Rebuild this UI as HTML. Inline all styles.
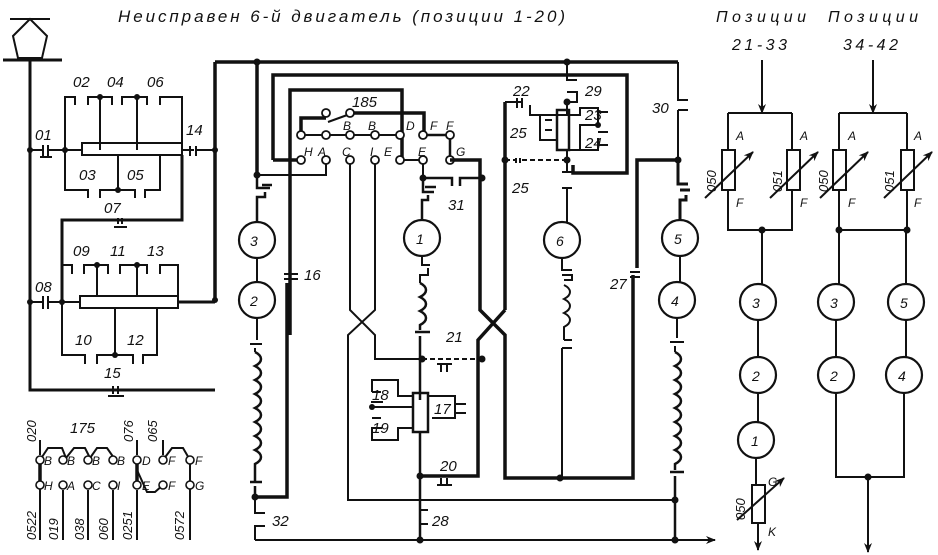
<!DOCTYPE html>
<html><head><meta charset="utf-8"><style>
html,body{margin:0;padding:0;background:#fff}
svg{display:block}
text{font-family:"Liberation Sans",sans-serif;font-style:italic;fill:#111}
</style></head><body>
<svg width="938" height="555" viewBox="0 0 938 555" xmlns="http://www.w3.org/2000/svg">
<defs>
<marker id="ar" markerWidth="10" markerHeight="10" refX="9" refY="5" orient="auto" markerUnits="userSpaceOnUse"><path d="M0,1 L10,5 L0,9 L3,5 Z" fill="#111"/></marker>
</defs>
<text x="118" y="22" font-size="17" textLength="447" lengthAdjust="spacing">Неисправен 6-й двигатель (позиции 1-20)</text>
<text x="716" y="22" font-size="16" textLength="90" lengthAdjust="spacing">Позиции</text>
<text x="732" y="50" font-size="16" textLength="55" lengthAdjust="spacing">21-33</text>
<text x="828" y="22" font-size="16" textLength="90" lengthAdjust="spacing">Позиции</text>
<text x="843" y="50" font-size="16" textLength="55" lengthAdjust="spacing">34-42</text>

<g stroke="#111" fill="none" stroke-width="2">
<!-- pantograph -->
<path d="M10,19 H50 M30,19 L13,36 L18,58 H42 L47,36 Z"/>
<path d="M3,60 H62" stroke-width="3"/>
<path d="M30,60 V390 H215" stroke-width="3"/>
<!-- 01 -->
<path d="M30,150 H43 M43,145 V158 M48,145 V158 M48,150 H82" />
<path d="M40,157 H52"/>
<rect x="82" y="143" width="100" height="12"/>
<path d="M65,150 V97 H75 V105 M88,105 V97 H100 V150 M100,97 H112 V105 M122,105 V97 H137 V150 M137,97 H147 V105 M160,105 V97 H182 V143"/>
<path d="M65,150 V190 H88 V198 M100,198 V190 H118 V155 M118,190 H135 V198 M145,198 V190 H160 V155"/>
<path d="M182,155 V220 H62 V300" stroke-width="3"/>
<path d="M118,224 V218 M122,224 V218 M114,227 H127"/>
<path d="M182,150 H190 M190,146 V156 M196,146 V156 M196,150 H215"/>
<path d="M186,150 H200" stroke-dasharray="3,2"/>
<!-- lower block -->
<path d="M30,302 H43 M43,296 V309 M48,296 V309 M48,302 H80"/>
<rect x="80" y="296" width="98" height="12"/>
<path d="M62,302 V265 H72 V274 M84,274 V265 H97 V296 M97,265 H108 V274 M120,274 V265 H137 V296 M137,265 H147 V274 M160,274 V265 H178 V296"/>
<path d="M62,302 V355 H85 V364 M97,364 V355 H115 V308 M115,355 H133 V364 M143,364 V355 H157 V308"/>
<path d="M178,302 H215" stroke-width="3"/>
<path d="M113,386 V394 M118,386 V394 M108,396 H124"/>
<!-- main left thick -->
<path d="M215,62 V302" stroke-width="3.5"/>
<path d="M215,62 H678" stroke-width="3.5"/>
<path d="M273,160 V75 H627 V173 H573 V165" stroke-width="3.5"/>
<path d="M273,160 H301" stroke-width="3.5"/>
<path d="M290,335 V90 H402 V160" stroke-width="3.5"/>
<!-- switch terminals -->
<path d="M301,135 V118 H326" stroke-width="3.5"/>
<path d="M328,122 L350,114"/>
<path d="M350,113 H424 V135" stroke-width="3.5"/>
<path d="M301,135 H400"/>
<path d="M423,135 H450 V160" stroke-width="2.5"/>
<path d="M402,160 H423"/>
<g fill="#fff" stroke-width="1.8">
<circle cx="301" cy="135" r="4"/><circle cx="326" cy="135" r="4"/><circle cx="350" cy="135" r="4"/><circle cx="375" cy="135" r="4"/><circle cx="400" cy="135" r="4"/><circle cx="423" cy="135" r="4"/><circle cx="450" cy="135" r="4"/>
<circle cx="301" cy="160" r="4"/><circle cx="326" cy="160" r="4"/><circle cx="350" cy="160" r="4"/><circle cx="375" cy="160" r="4"/><circle cx="400" cy="160" r="4"/><circle cx="423" cy="160" r="4"/><circle cx="450" cy="160" r="4"/>
<circle cx="326" cy="113" r="4"/><circle cx="350" cy="113" r="4"/>
</g>
<!-- motor 3/2 column -->
<path d="M257,62 V175" stroke-width="3.5"/>
<path d="M257,175 H326 V164"/>
<path d="M257,175 V188 H270 M262,185 H272 M265,192 V197 H257 V222" stroke-width="2.5"/>
<path d="M257,258 V282 M257,318 V340 M250,344 H262 M255,348 V352"/>
<path d="M255,352 c8,4 8,10 0,14 c8,4 8,10 0,14 c8,4 8,10 0,14 c8,4 8,10 0,14 c8,4 8,10 0,14 c8,4 8,10 0,14 c8,4 8,10 0,14 c8,4 8,10 0,14 V482 M250,482 H262 M255,486 V497" stroke-width="2.5"/>
<path d="M255,497 H287 V283" stroke-width="3.5"/>
<path d="M290,270 V274 M284,274 H298 M284,279 H298"/>
<path d="M255,497 V513 H265 M255,540 V526 H265"/>
<path d="M255,540 H700"/>
<path d="M700,540 H715" marker-end="url(#ar)"/>
<!-- C and I crossing -->
<path d="M350,164 V310 L375,335 V359 H422"/>
<path d="M375,164 V310 L348,335 V500 H676"/>
<!-- motor 1 column -->
<path d="M423,164 V178" />
<path d="M423,178 H452 V186 M460,186 V178 H482" stroke-width="2.5"/>
<path d="M450,160 H480 V178 V310 L505,335 V478 H633 V275" stroke-width="3.5"/>
<path d="M423,178 V192 H434 M425,187 H436 M428,195 V200 H422 V220" stroke-width="2.5"/>
<path d="M422,256 V265 H430 M428,268 V275 H420 V283"/>
<path d="M420,283 c8,4 8,10 0,14 c8,4 8,10 0,14 c8,4 8,10 0,14 V330 M415,332 H430 M420,336 V400" stroke-width="2.5"/>
<path d="M422,359 H482" stroke-dasharray="5,3"/>
<path d="M441,363 V372 M447,363 V372 M437,364 H452"/>
<rect x="413" y="393" width="15" height="39" stroke-width="2.5"/>
<path d="M428,396 H455 V418 H432 M455,404 H466 M455,413 H466"/>
<path d="M413,396 H398 V380 H372 V392 M372,392 H381 M371,402 H383 M372,407 H413 M372,418 H381 M371,428 H382 M413,428 H398 V440 H372 V428"/>
<path d="M420,432 V540" stroke-width="2.5"/>
<path d="M420,476 H478 V340 L505,310" stroke-width="3.5"/>
<path d="M441,478 V486 M447,478 V486 M437,485 H452"/>
<path d="M420,510 H428 M420,524 H428" />
<!-- right of 505 -->
<path d="M505,102 V310" stroke-width="3.5"/>
<path d="M505,102 H522 M517,98 V108 M522,98 V108"/>
<path d="M505,160 H515 M516,158 V166 M520,158 V166 M522,160 H565" stroke-dasharray="5,3"/>
<path d="M567,62 V80 H577 M567,92 H577 V102 H567 V115 H530 V105" />
<rect x="557" y="110" width="12" height="40" stroke-width="2.5"/>
<path d="M557,115 H540 V140 H557 M545,120 H552 M545,130 H552 M569,115 H580 V108 H598 V125 H580 V150 H569 M598,112 H608 M598,125 H600 M598,132 H608 M598,145 H608 M580,150 H598 V138"/>
<path d="M567,150 V160 V172 M562,172 H572 M562,188 H572 M567,188 V222" stroke-width="2"/>
<path d="M562,258 V270 H572 M562,275 H572 V280 H564"/>
<path d="M564,285 c8,4 8,10 0,14 c8,4 8,10 0,14 c8,4 8,10 0,14 V340 M564,340 H572 M562,348 H572 M562,348 V478"/>
<!-- right column motors 5/4 -->
<path d="M678,62 V100 H688 M678,110 H688 M678,110 V160" stroke-width="2"/>
<path d="M678,160 H637 V268" stroke-width="3.5"/>
<path d="M630,272 H640 M630,277 H640"/>
<path d="M678,160 V184 H688 M680,190 H690 M686,195 V200 H680 V222" stroke-width="3"/>
<path d="M680,256 V282 M677,318 V338 M670,342 H684 M675,346 V352"/>
<path d="M675,352 c8,4 8,10 0,14 c8,4 8,10 0,14 c8,4 8,10 0,14 c8,4 8,10 0,14 c8,4 8,10 0,14 c8,4 8,10 0,14 c8,4 8,10 0,14 c8,4 8,10 0,14 V470 M670,472 H684 M675,476 V540" stroke-width="2.5"/>
<!-- motors -->
<g stroke-width="2.2" fill="#fff">
<circle cx="257" cy="240" r="18"/><circle cx="257" cy="300" r="18"/>
<circle cx="422" cy="238" r="18"/><circle cx="562" cy="240" r="18"/>
<circle cx="680" cy="238" r="18"/><circle cx="677" cy="300" r="18"/>
<circle cx="758" cy="302" r="18"/><circle cx="758" cy="375" r="18"/><circle cx="756" cy="440" r="18"/>
<circle cx="836" cy="302" r="18"/><circle cx="906" cy="302" r="18"/><circle cx="836" cy="375" r="18"/><circle cx="904" cy="375" r="18"/>
</g>
<!-- right schemes -->
<path d="M762,60 V113" marker-end="url(#ar)"/>
<path d="M728,113 H792 M728,113 V150 M728,190 V230 H792 V190 M792,150 V113"/>
<rect x="722" y="150" width="13" height="40"/><rect x="787" y="150" width="13" height="40"/>
<path d="M705,198 L753,152" marker-end="url(#ar)"/><path d="M770,198 L818,152" marker-end="url(#ar)"/>
<path d="M762,230 V284 M758,320 V357 M758,393 V422 M756,458 V485"/>
<rect x="752" y="485" width="13" height="38"/>
<path d="M737,520 L784,478" marker-end="url(#ar)"/>
<path d="M758,523 V550" marker-end="url(#ar)"/>
<path d="M873,60 V113" marker-end="url(#ar)"/>
<path d="M839,113 H907 M839,113 V150 M839,190 V230 H907 V190 M907,150 V113"/>
<rect x="833" y="150" width="13" height="40"/><rect x="901" y="150" width="13" height="40"/>
<path d="M820,198 L868,152" marker-end="url(#ar)"/><path d="M884,198 L932,152" marker-end="url(#ar)"/>
<path d="M839,230 V284 M906,230 V284 M836,320 V357 M906,320 V357 M836,393 V477 H904 V393 M868,477 V550"/>
<path d="M868,540 V552" marker-end="url(#ar)"/>
<!-- terminal strip -->
<path d="M40,490 V460 L48,448 H62 L66,458 L74,448 H85 L90,458 L97,448 H107 L114,458 M137,485 V470 L147,492 H155 L163,485 M163,460 L172,448 H183 L190,460 M190,460 V485 V540"/>
<path d="M40,490 V540 M63,490 V540 M88,490 V540 M113,490 V540 M137,490 V540 M163,440 V455 M137,440 V455"/>
<path d="M40,460 V485 M137,460 V485" stroke-width="3.5"/>
<path d="M40,440 V455"/>
<g fill="#fff" stroke-width="1.6">
<circle cx="40" cy="460" r="4"/><circle cx="63" cy="460" r="4"/><circle cx="88" cy="460" r="4"/><circle cx="113" cy="460" r="4"/><circle cx="137" cy="460" r="4"/><circle cx="163" cy="460" r="4"/><circle cx="190" cy="460" r="4"/>
<circle cx="40" cy="485" r="4"/><circle cx="63" cy="485" r="4"/><circle cx="88" cy="485" r="4"/><circle cx="113" cy="485" r="4"/><circle cx="137" cy="485" r="4"/><circle cx="163" cy="485" r="4"/><circle cx="190" cy="485" r="4"/>
</g>
</g>
<!-- nodes -->
<g fill="#111">
<circle cx="30" cy="150" r="3"/><circle cx="65" cy="150" r="3"/><circle cx="100" cy="97" r="3"/><circle cx="137" cy="97" r="3"/><circle cx="118" cy="190" r="3"/><circle cx="215" cy="150" r="3"/>
<circle cx="30" cy="302" r="3"/><circle cx="62" cy="302" r="3"/><circle cx="97" cy="265" r="3"/><circle cx="137" cy="265" r="3"/><circle cx="115" cy="355" r="3"/><circle cx="215" cy="300" r="3"/>
<circle cx="257" cy="62" r="3.5"/><circle cx="567" cy="62" r="3.5"/><circle cx="257" cy="175" r="3.5"/><circle cx="423" cy="178" r="3.5"/><circle cx="482" cy="178" r="3.5"/>
<circle cx="505" cy="160" r="3.5"/><circle cx="567" cy="160" r="3.5"/><circle cx="567" cy="102" r="3.5"/><circle cx="598" cy="125" r="3"/><circle cx="678" cy="160" r="3.5"/>
<circle cx="422" cy="359" r="3.5"/><circle cx="482" cy="359" r="3.5"/><circle cx="420" cy="476" r="3.5"/><circle cx="560" cy="478" r="3.5"/><circle cx="372" cy="407" r="3"/>
<circle cx="255" cy="497" r="3.5"/><circle cx="675" cy="500" r="3.5"/><circle cx="420" cy="540" r="3.5"/><circle cx="675" cy="540" r="3.5"/>
<circle cx="762" cy="230" r="3.5"/><circle cx="839" cy="230" r="3.5"/><circle cx="907" cy="230" r="3.5"/><circle cx="868" cy="477" r="3.5"/>
</g>
<!-- labels -->
<g font-size="15">
<text x="35" y="140">01</text><text x="73" y="87">02</text><text x="107" y="87">04</text><text x="147" y="87">06</text><text x="186" y="135">14</text>
<text x="79" y="180">03</text><text x="127" y="180">05</text><text x="104" y="213">07</text>
<text x="73" y="256">09</text><text x="110" y="256">11</text><text x="147" y="256">13</text><text x="35" y="292">08</text>
<text x="75" y="345">10</text><text x="127" y="345">12</text><text x="104" y="378">15</text>
<text x="70" y="433">175</text>
<text x="352" y="107">185</text><text x="304" y="280">16</text><text x="448" y="210">31</text>
<text x="513" y="96">22</text><text x="585" y="96">29</text><text x="510" y="138">25</text><text x="585" y="120">23</text><text x="585" y="148">24</text><text x="512" y="193">25</text>
<text x="652" y="113">30</text><text x="610" y="289">27</text>
<text x="446" y="342">21</text><text x="372" y="400">18</text><text x="372" y="433">19</text><text x="434" y="414">17</text>
<text x="440" y="471">20</text><text x="432" y="526">28</text><text x="272" y="526">32</text>
</g>
<g font-size="14">
<text x="250" y="246">3</text><text x="250" y="306">2</text><text x="416" y="244">1</text><text x="556" y="246">6</text><text x="674" y="244">5</text><text x="671" y="306">4</text>
<text x="752" y="308">3</text><text x="752" y="381">2</text><text x="751" y="446">1</text>
<text x="830" y="308">3</text><text x="900" y="308">5</text><text x="830" y="381">2</text><text x="898" y="381">4</text>
</g>
<g font-size="12">
<text x="304" y="156">H</text><text x="318" y="156">A</text><text x="342" y="156">C</text><text x="370" y="156">I</text><text x="384" y="156">E</text><text x="418" y="156">E</text><text x="456" y="156">G</text>
<text x="343" y="130">B</text><text x="368" y="130">B</text><text x="406" y="130">D</text><text x="430" y="130">F</text><text x="446" y="130">F</text>
<text x="736" y="140">A</text><text x="736" y="207">F</text><text x="800" y="140">A</text><text x="800" y="207">F</text>
<text x="848" y="140">A</text><text x="848" y="207">F</text><text x="914" y="140">A</text><text x="914" y="207">F</text>
<text x="768" y="486">G</text><text x="768" y="536">K</text>
<text x="44" y="465">B</text><text x="67" y="465">B</text><text x="92" y="465">B</text><text x="117" y="465">B</text><text x="142" y="465">D</text><text x="168" y="465">F</text><text x="195" y="465">F</text>
<text x="44" y="490">H</text><text x="67" y="490">A</text><text x="92" y="490">C</text><text x="117" y="490">I</text><text x="142" y="490">E</text><text x="168" y="490">F</text><text x="195" y="490">G</text>
</g>
<g font-size="13">
<text transform="translate(716,192) rotate(-90)">050</text>
<text transform="translate(782,192) rotate(-90)">051</text>
<text transform="translate(828,192) rotate(-90)">050</text>
<text transform="translate(894,192) rotate(-90)">051</text>
<text transform="translate(745,520) rotate(-90)">050</text>
<text transform="translate(36,442) rotate(-90)">020</text>
<text transform="translate(133,442) rotate(-90)">076</text>
<text transform="translate(157,442) rotate(-90)">065</text>
<text transform="translate(36,540) rotate(-90)">0522</text>
<text transform="translate(58,540) rotate(-90)">019</text>
<text transform="translate(84,540) rotate(-90)">038</text>
<text transform="translate(108,540) rotate(-90)">060</text>
<text transform="translate(132,540) rotate(-90)">0251</text>
<text transform="translate(184,540) rotate(-90)">0572</text>
</g>
</svg>
</body></html>
